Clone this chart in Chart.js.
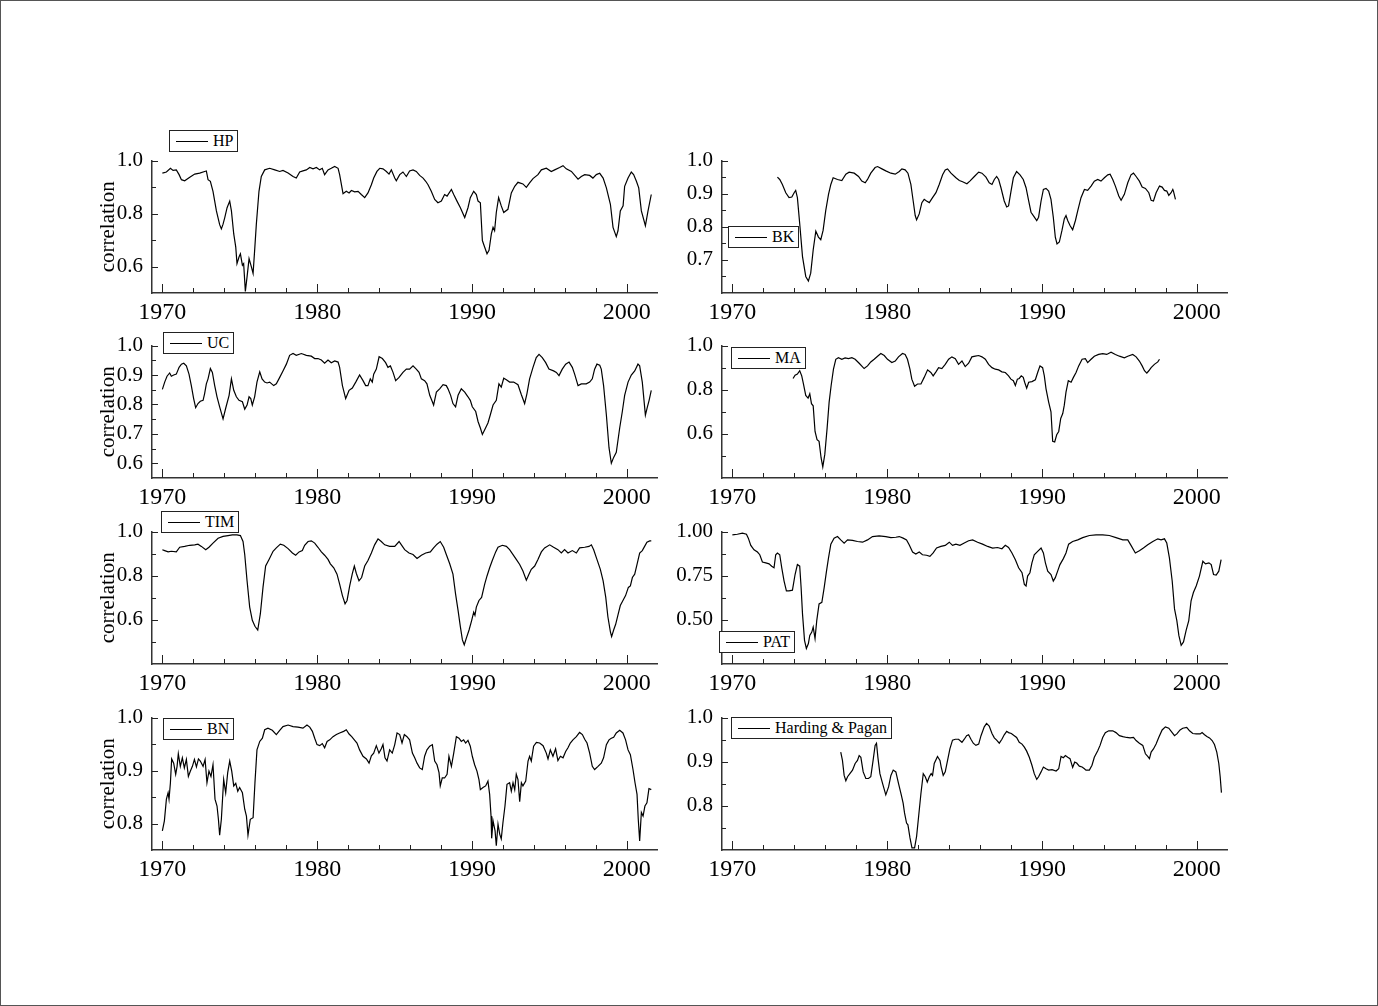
<!DOCTYPE html>
<html>
<head>
<meta charset="utf-8">
<script src="https://cdn.jsdelivr.net/npm/chart.js@4.4.0/dist/chart.umd.min.js"></script>
<style>
  body { margin: 0; background: #fff; }
  #frame { position: absolute; left: 0; top: 0; width: 1378px; height: 1006px; border: 1px solid #555; box-sizing: border-box; }
  canvas { position: absolute; }
  .legend { position: absolute; height: 22px; box-sizing: border-box; border: 1px solid #222; background: #fff;
            display: flex; align-items: center; padding: 0 4px 0 6px; white-space: nowrap;
            font: 16px 'Liberation Serif', 'Times New Roman', serif; color: #000; }
  .legend .swatch { display: inline-block; width: 32px; border-top: 1px solid #000; margin-right: 5px; }
</style>
</head>
<body>
<div id="frame"></div>
<script>
// axis settings shared by all panels
const X_MIN = 1969.33;
const X_MAX = 2001.95;
const xLabelTicks = [1970, 1980, 1990, 2000];
const xMinorTicks = [1972, 1974, 1976, 1978, 1982, 1984, 1986, 1988, 1992, 1994, 1996, 1998];

// HP
const hpYears = [1970.00,1970.26,1970.52,1970.69,1970.90,1971.08,1971.23,1971.44,1971.77,1972.09,1972.41,1972.73,1972.84,1972.95,1973.10,1973.27,1973.49,1973.70,1973.81,1973.92,1974.03,1974.18,1974.35,1974.46,1974.61,1974.74,1974.82,1974.95,1975.04,1975.17,1975.25,1975.36,1975.47,1975.60,1975.75,1975.86,1975.96,1976.07,1976.24,1976.39,1976.61,1976.93,1977.26,1977.58,1977.79,1978.12,1978.44,1978.65,1978.87,1979.08,1979.30,1979.52,1979.73,1979.95,1980.16,1980.33,1980.48,1980.70,1980.91,1981.13,1981.35,1981.45,1981.67,1981.88,1982.06,1982.21,1982.42,1982.64,1982.85,1983.07,1983.28,1983.50,1983.65,1983.86,1984.04,1984.25,1984.47,1984.64,1984.79,1985.01,1985.11,1985.33,1985.54,1985.76,1985.97,1986.19,1986.40,1986.62,1986.84,1987.01,1987.16,1987.37,1987.59,1987.80,1988.02,1988.23,1988.39,1988.67,1988.82,1989.03,1989.25,1989.53,1989.74,1989.89,1990.11,1990.28,1990.39,1990.54,1990.67,1990.82,1990.97,1991.10,1991.25,1991.36,1991.46,1991.57,1991.72,1991.89,1992.05,1992.32,1992.54,1992.76,1992.97,1993.29,1993.51,1993.72,1993.94,1994.26,1994.48,1994.80,1995.12,1995.34,1995.66,1995.88,1996.09,1996.42,1996.85,1997.06,1997.28,1997.60,1997.81,1998.03,1998.25,1998.47,1998.68,1998.94,1999.11,1999.32,1999.43,1999.58,1999.76,1999.86,2000.08,2000.29,2000.44,2000.62,2000.77,2000.94,2001.20,2001.37,2001.58];
const hpValues = [0.953,0.957,0.971,0.963,0.965,0.947,0.928,0.924,0.937,0.949,0.953,0.959,0.961,0.928,0.922,0.884,0.810,0.758,0.742,0.760,0.785,0.822,0.847,0.810,0.723,0.673,0.611,0.636,0.648,0.605,0.611,0.506,0.561,0.630,0.599,0.574,0.661,0.760,0.884,0.940,0.965,0.971,0.965,0.959,0.963,0.953,0.940,0.934,0.957,0.961,0.965,0.974,0.969,0.974,0.965,0.971,0.947,0.965,0.971,0.978,0.971,0.947,0.875,0.884,0.878,0.887,0.882,0.884,0.872,0.860,0.878,0.909,0.934,0.959,0.971,0.969,0.959,0.949,0.965,0.934,0.924,0.947,0.957,0.940,0.961,0.965,0.959,0.944,0.934,0.922,0.909,0.884,0.853,0.841,0.847,0.872,0.866,0.891,0.872,0.847,0.822,0.785,0.822,0.860,0.884,0.872,0.847,0.841,0.698,0.673,0.648,0.661,0.723,0.748,0.735,0.804,0.860,0.829,0.804,0.816,0.878,0.903,0.918,0.912,0.899,0.916,0.932,0.947,0.965,0.971,0.959,0.965,0.974,0.981,0.969,0.959,0.930,0.940,0.947,0.944,0.934,0.947,0.952,0.934,0.897,0.835,0.748,0.713,0.735,0.810,0.829,0.903,0.934,0.957,0.947,0.922,0.897,0.810,0.754,0.810,0.872];

// BK
const bkYears = [1972.91,1973.06,1973.23,1973.45,1973.66,1973.84,1973.99,1974.09,1974.20,1974.35,1974.53,1974.74,1974.91,1975.06,1975.22,1975.39,1975.56,1975.71,1975.86,1976.03,1976.21,1976.36,1976.51,1976.79,1977.07,1977.33,1977.54,1977.87,1978.15,1978.36,1978.58,1978.73,1978.94,1979.22,1979.38,1979.66,1979.91,1980.24,1980.52,1980.78,1980.95,1981.16,1981.34,1981.53,1981.68,1981.81,1981.90,1982.07,1982.24,1982.39,1982.54,1982.72,1982.93,1983.15,1983.36,1983.58,1983.75,1983.90,1984.12,1984.44,1984.66,1984.87,1985.15,1985.34,1985.63,1985.91,1986.12,1986.38,1986.59,1986.77,1986.92,1987.07,1987.20,1987.35,1987.56,1987.72,1987.84,1988.00,1988.15,1988.36,1988.58,1988.79,1988.97,1989.14,1989.29,1989.44,1989.66,1989.78,1989.94,1990.09,1990.26,1990.43,1990.58,1990.73,1990.86,1990.97,1991.12,1991.29,1991.44,1991.55,1991.66,1991.81,1991.98,1992.16,1992.31,1992.52,1992.74,1992.95,1993.17,1993.38,1993.60,1993.81,1994.03,1994.25,1994.40,1994.57,1994.74,1994.96,1995.11,1995.32,1995.54,1995.75,1995.91,1996.08,1996.29,1996.47,1996.68,1996.90,1997.05,1997.20,1997.37,1997.59,1997.76,1997.91,1998.06,1998.19,1998.34,1998.45,1998.49,1998.62];
const bkValues = [0.950,0.943,0.928,0.903,0.888,0.890,0.903,0.910,0.888,0.809,0.710,0.650,0.636,0.660,0.730,0.787,0.769,0.761,0.789,0.849,0.898,0.928,0.948,0.943,0.940,0.959,0.965,0.962,0.952,0.938,0.933,0.943,0.962,0.979,0.982,0.975,0.969,0.962,0.959,0.967,0.975,0.972,0.962,0.928,0.878,0.834,0.821,0.839,0.873,0.883,0.878,0.873,0.888,0.903,0.928,0.957,0.972,0.975,0.962,0.948,0.940,0.936,0.930,0.938,0.952,0.965,0.962,0.950,0.933,0.928,0.943,0.952,0.943,0.918,0.878,0.860,0.863,0.908,0.948,0.967,0.957,0.943,0.918,0.878,0.844,0.834,0.819,0.829,0.878,0.913,0.916,0.908,0.883,0.829,0.769,0.748,0.754,0.789,0.824,0.834,0.819,0.804,0.791,0.819,0.849,0.888,0.913,0.910,0.923,0.938,0.943,0.938,0.948,0.957,0.959,0.943,0.923,0.893,0.880,0.898,0.933,0.957,0.962,0.952,0.938,0.920,0.916,0.903,0.880,0.878,0.903,0.923,0.920,0.910,0.908,0.895,0.903,0.913,0.908,0.883];

// UC
const ucYears = [1970.00,1970.15,1970.30,1970.47,1970.58,1970.73,1970.90,1971.08,1971.23,1971.38,1971.55,1971.72,1971.87,1972.02,1972.15,1972.30,1972.45,1972.63,1972.73,1972.84,1972.95,1973.10,1973.23,1973.38,1973.53,1973.70,1973.92,1974.09,1974.31,1974.46,1974.61,1974.78,1974.95,1975.17,1975.32,1975.47,1975.60,1975.71,1975.81,1975.96,1976.11,1976.29,1976.44,1976.61,1976.76,1976.93,1977.19,1977.36,1977.58,1977.79,1978.01,1978.22,1978.44,1978.65,1978.98,1979.30,1979.62,1979.84,1980.05,1980.27,1980.48,1980.70,1980.91,1981.13,1981.35,1981.45,1981.63,1981.84,1982.06,1982.27,1982.49,1982.74,1982.96,1983.13,1983.28,1983.43,1983.56,1983.65,1983.82,1984.00,1984.21,1984.42,1984.57,1984.73,1984.90,1985.07,1985.29,1985.54,1985.76,1985.97,1986.19,1986.40,1986.58,1986.73,1986.94,1987.09,1987.27,1987.44,1987.52,1987.70,1987.91,1988.13,1988.34,1988.45,1988.62,1988.77,1988.94,1989.10,1989.31,1989.53,1989.74,1989.89,1990.02,1990.24,1990.39,1990.54,1990.67,1990.82,1991.03,1991.18,1991.36,1991.57,1991.74,1991.89,1992.05,1992.22,1992.43,1992.69,1992.97,1993.19,1993.40,1993.55,1993.72,1993.94,1994.15,1994.33,1994.54,1994.76,1994.97,1995.27,1995.45,1995.62,1995.83,1996.05,1996.27,1996.48,1996.63,1996.85,1997.06,1997.38,1997.60,1997.77,1997.92,1998.07,1998.25,1998.35,1998.50,1998.68,1998.85,1999.00,1999.15,1999.32,1999.54,1999.71,1999.86,2000.08,2000.29,2000.51,2000.72,2000.83,2001.00,2001.20,2001.33,2001.44,2001.58];
const ucValues = [0.851,0.876,0.896,0.907,0.896,0.900,0.903,0.926,0.937,0.940,0.931,0.903,0.864,0.820,0.789,0.803,0.811,0.814,0.837,0.870,0.887,0.922,0.909,0.864,0.826,0.792,0.751,0.787,0.831,0.887,0.848,0.826,0.814,0.809,0.784,0.798,0.826,0.820,0.798,0.826,0.876,0.911,0.887,0.876,0.873,0.876,0.864,0.870,0.892,0.914,0.937,0.967,0.973,0.967,0.973,0.967,0.964,0.956,0.956,0.951,0.940,0.951,0.942,0.948,0.944,0.926,0.864,0.820,0.848,0.856,0.876,0.900,0.881,0.864,0.864,0.887,0.876,0.903,0.920,0.962,0.956,0.942,0.926,0.931,0.909,0.881,0.892,0.909,0.920,0.920,0.931,0.920,0.909,0.887,0.881,0.870,0.831,0.809,0.798,0.842,0.853,0.867,0.864,0.853,0.831,0.803,0.792,0.831,0.853,0.842,0.826,0.814,0.792,0.776,0.742,0.720,0.698,0.714,0.737,0.764,0.798,0.814,0.870,0.859,0.889,0.884,0.876,0.876,0.867,0.833,0.803,0.837,0.887,0.926,0.959,0.970,0.959,0.942,0.920,0.914,0.909,0.898,0.920,0.937,0.944,0.926,0.903,0.864,0.870,0.870,0.876,0.887,0.920,0.937,0.933,0.920,0.864,0.764,0.653,0.600,0.620,0.637,0.720,0.776,0.831,0.876,0.900,0.914,0.937,0.931,0.876,0.764,0.792,0.814,0.848];

// MA
const maYears = [1973.92,1974.05,1974.20,1974.35,1974.48,1974.59,1974.74,1974.89,1975.00,1975.11,1975.22,1975.34,1975.47,1975.60,1975.73,1975.84,1975.97,1976.12,1976.25,1976.38,1976.53,1976.68,1976.85,1977.07,1977.28,1977.50,1977.72,1977.93,1978.19,1978.51,1978.73,1978.94,1979.16,1979.38,1979.59,1979.81,1980.02,1980.30,1980.52,1980.73,1980.99,1981.16,1981.31,1981.47,1981.59,1981.77,1981.96,1982.18,1982.39,1982.61,1982.82,1982.97,1983.15,1983.32,1983.53,1983.75,1983.97,1984.18,1984.40,1984.61,1984.83,1985.04,1985.26,1985.47,1985.69,1985.91,1986.12,1986.34,1986.55,1986.77,1986.98,1987.20,1987.41,1987.63,1987.84,1987.99,1988.15,1988.28,1988.41,1988.53,1988.66,1988.79,1988.88,1989.01,1989.14,1989.35,1989.57,1989.72,1989.87,1990.04,1990.15,1990.26,1990.43,1990.58,1990.69,1990.82,1990.95,1991.08,1991.21,1991.34,1991.44,1991.55,1991.70,1991.88,1992.03,1992.20,1992.37,1992.59,1992.80,1992.95,1993.17,1993.38,1993.66,1993.92,1994.18,1994.46,1994.74,1995.00,1995.32,1995.54,1995.86,1996.08,1996.29,1996.47,1996.62,1996.77,1996.90,1997.05,1997.26,1997.48,1997.59];
const maValues = [0.851,0.866,0.871,0.886,0.863,0.826,0.774,0.762,0.782,0.737,0.727,0.611,0.574,0.566,0.492,0.450,0.507,0.626,0.744,0.819,0.893,0.938,0.945,0.938,0.944,0.941,0.945,0.938,0.920,0.896,0.908,0.926,0.938,0.952,0.964,0.955,0.938,0.923,0.930,0.949,0.964,0.960,0.938,0.893,0.848,0.816,0.826,0.826,0.856,0.890,0.878,0.863,0.881,0.900,0.896,0.915,0.938,0.949,0.941,0.915,0.930,0.905,0.920,0.949,0.952,0.955,0.949,0.938,0.915,0.900,0.893,0.890,0.881,0.878,0.863,0.848,0.841,0.819,0.848,0.851,0.863,0.856,0.834,0.807,0.834,0.837,0.845,0.878,0.908,0.900,0.863,0.804,0.744,0.700,0.566,0.563,0.596,0.611,0.670,0.692,0.730,0.789,0.841,0.834,0.856,0.878,0.908,0.938,0.941,0.923,0.938,0.952,0.960,0.964,0.960,0.970,0.960,0.952,0.945,0.952,0.960,0.949,0.930,0.908,0.886,0.875,0.886,0.900,0.915,0.926,0.938];

// TIM
const timYears = [1970.00,1970.15,1970.37,1970.58,1970.90,1971.12,1971.44,1971.77,1972.09,1972.30,1972.52,1972.80,1973.01,1973.27,1973.60,1973.92,1974.24,1974.52,1974.82,1975.04,1975.21,1975.32,1975.47,1975.64,1975.81,1975.98,1976.16,1976.33,1976.50,1976.67,1976.89,1977.15,1977.36,1977.62,1977.84,1978.12,1978.40,1978.61,1978.83,1979.04,1979.19,1979.41,1979.62,1979.84,1980.05,1980.27,1980.48,1980.70,1980.85,1981.07,1981.28,1981.45,1981.63,1981.80,1981.93,1982.10,1982.27,1982.40,1982.53,1982.70,1982.87,1983.07,1983.28,1983.50,1983.71,1983.93,1984.14,1984.36,1984.68,1985.01,1985.29,1985.44,1985.65,1985.93,1986.19,1986.45,1986.73,1987.01,1987.31,1987.52,1987.74,1987.95,1988.17,1988.34,1988.56,1988.77,1988.94,1989.10,1989.25,1989.38,1989.50,1989.63,1989.81,1989.98,1990.11,1990.19,1990.28,1990.45,1990.62,1990.82,1990.97,1991.14,1991.31,1991.53,1991.68,1991.96,1992.22,1992.43,1992.65,1992.86,1993.08,1993.29,1993.51,1993.68,1993.83,1994.05,1994.26,1994.48,1994.69,1995.02,1995.27,1995.55,1995.77,1995.98,1996.20,1996.48,1996.74,1996.95,1997.28,1997.56,1997.71,1997.86,1998.07,1998.29,1998.47,1998.64,1998.78,1998.94,1999.02,1999.15,1999.28,1999.45,1999.58,1999.75,1999.92,2000.10,2000.23,2000.36,2000.51,2000.66,2000.83,2001.00,2001.15,2001.30,2001.48,2001.58];
const timValues = [0.918,0.914,0.908,0.911,0.908,0.929,0.933,0.938,0.940,0.943,0.933,0.918,0.929,0.948,0.970,0.978,0.982,0.985,0.985,0.982,0.955,0.896,0.777,0.658,0.598,0.571,0.554,0.628,0.747,0.844,0.874,0.911,0.926,0.943,0.938,0.923,0.903,0.893,0.908,0.914,0.938,0.955,0.958,0.948,0.929,0.908,0.893,0.874,0.854,0.836,0.807,0.762,0.710,0.673,0.688,0.754,0.810,0.844,0.810,0.777,0.792,0.844,0.869,0.903,0.940,0.967,0.955,0.940,0.933,0.933,0.955,0.940,0.918,0.903,0.896,0.878,0.893,0.903,0.908,0.926,0.943,0.955,0.929,0.896,0.854,0.807,0.717,0.643,0.568,0.509,0.487,0.516,0.554,0.598,0.635,0.621,0.658,0.688,0.702,0.762,0.799,0.836,0.869,0.908,0.929,0.938,0.933,0.918,0.896,0.874,0.851,0.821,0.780,0.807,0.829,0.844,0.874,0.908,0.926,0.940,0.929,0.918,0.903,0.918,0.903,0.914,0.903,0.926,0.929,0.933,0.940,0.918,0.874,0.829,0.777,0.702,0.613,0.546,0.524,0.554,0.580,0.628,0.665,0.688,0.710,0.747,0.754,0.792,0.807,0.851,0.903,0.914,0.933,0.952,0.958,0.958];

// PAT
const patYears = [1970.00,1970.32,1970.65,1970.91,1971.03,1971.19,1971.40,1971.62,1971.77,1971.94,1972.16,1972.37,1972.54,1972.69,1972.80,1972.91,1973.06,1973.19,1973.34,1973.49,1973.66,1973.88,1974.05,1974.20,1974.35,1974.44,1974.53,1974.66,1974.78,1974.91,1975.00,1975.13,1975.22,1975.34,1975.45,1975.60,1975.78,1975.93,1976.08,1976.21,1976.36,1976.57,1976.79,1977.00,1977.22,1977.44,1977.76,1978.08,1978.41,1978.73,1979.05,1979.48,1979.91,1980.24,1980.56,1980.78,1981.03,1981.25,1981.42,1981.64,1981.85,1982.07,1982.28,1982.54,1982.76,1982.97,1983.19,1983.47,1983.75,1984.01,1984.22,1984.44,1984.70,1984.98,1985.26,1985.52,1985.84,1986.16,1986.49,1986.81,1987.13,1987.41,1987.63,1987.84,1988.06,1988.28,1988.49,1988.71,1988.86,1988.97,1989.07,1989.22,1989.35,1989.50,1989.72,1989.94,1990.09,1990.22,1990.37,1990.58,1990.73,1990.86,1991.01,1991.16,1991.38,1991.55,1991.72,1991.98,1992.31,1992.63,1993.06,1993.49,1993.92,1994.35,1994.78,1995.22,1995.54,1995.75,1996.03,1996.29,1996.55,1996.83,1997.16,1997.48,1997.69,1997.91,1998.06,1998.23,1998.41,1998.56,1998.71,1998.84,1998.99,1999.14,1999.31,1999.48,1999.63,1999.78,1999.96,2000.17,2000.39,2000.56,2000.78,2000.93,2001.08,2001.25,2001.42,2001.57];
const patValues = [0.981,0.985,0.991,0.985,0.963,0.922,0.897,0.884,0.869,0.828,0.823,0.817,0.804,0.795,0.869,0.879,0.869,0.795,0.720,0.664,0.664,0.668,0.757,0.813,0.804,0.683,0.534,0.384,0.338,0.366,0.412,0.431,0.459,0.394,0.496,0.590,0.599,0.683,0.776,0.851,0.929,0.963,0.972,0.953,0.935,0.953,0.950,0.944,0.940,0.953,0.972,0.976,0.972,0.966,0.968,0.972,0.963,0.953,0.925,0.884,0.873,0.884,0.869,0.866,0.860,0.879,0.907,0.916,0.922,0.940,0.922,0.929,0.922,0.935,0.948,0.953,0.940,0.929,0.916,0.907,0.910,0.903,0.922,0.910,0.879,0.841,0.795,0.767,0.701,0.692,0.748,0.767,0.823,0.869,0.888,0.907,0.879,0.823,0.776,0.757,0.720,0.739,0.776,0.813,0.847,0.879,0.929,0.944,0.953,0.966,0.978,0.981,0.981,0.978,0.966,0.953,0.953,0.922,0.879,0.892,0.907,0.925,0.944,0.959,0.953,0.959,0.935,0.851,0.720,0.562,0.496,0.412,0.356,0.375,0.440,0.496,0.608,0.655,0.692,0.748,0.832,0.817,0.823,0.813,0.757,0.754,0.776,0.841];

// BN
const bnYears = [1970.00,1970.13,1970.26,1970.37,1970.43,1970.52,1970.60,1970.73,1970.86,1970.95,1971.03,1971.16,1971.29,1971.42,1971.55,1971.68,1971.81,1971.94,1972.07,1972.20,1972.33,1972.45,1972.63,1972.76,1972.88,1973.01,1973.14,1973.27,1973.40,1973.53,1973.62,1973.70,1973.81,1973.96,1974.09,1974.22,1974.35,1974.48,1974.61,1974.74,1974.87,1974.99,1975.17,1975.32,1975.43,1975.53,1975.68,1975.86,1975.98,1976.11,1976.29,1976.46,1976.61,1976.82,1977.10,1977.36,1977.58,1977.79,1978.12,1978.44,1978.76,1979.08,1979.34,1979.52,1979.69,1979.84,1979.99,1980.16,1980.33,1980.48,1980.64,1980.81,1981.02,1981.24,1981.45,1981.71,1981.88,1982.06,1982.23,1982.40,1982.57,1982.74,1982.96,1983.18,1983.35,1983.50,1983.65,1983.82,1983.99,1984.14,1984.25,1984.38,1984.51,1984.68,1984.85,1985.01,1985.16,1985.33,1985.48,1985.63,1985.80,1985.97,1986.15,1986.30,1986.45,1986.62,1986.79,1986.94,1987.09,1987.27,1987.44,1987.59,1987.74,1987.87,1987.95,1988.08,1988.23,1988.39,1988.51,1988.67,1988.82,1988.99,1989.16,1989.31,1989.46,1989.59,1989.74,1989.89,1990.02,1990.17,1990.32,1990.45,1990.54,1990.71,1990.88,1991.03,1991.14,1991.23,1991.27,1991.36,1991.49,1991.57,1991.68,1991.79,1991.89,1992.00,1992.13,1992.26,1992.43,1992.54,1992.65,1992.76,1992.86,1992.97,1993.08,1993.19,1993.29,1993.47,1993.62,1993.72,1993.83,1993.98,1994.16,1994.37,1994.59,1994.80,1994.91,1995.06,1995.23,1995.40,1995.55,1995.71,1995.88,1996.05,1996.20,1996.35,1996.52,1996.74,1996.95,1997.13,1997.28,1997.43,1997.60,1997.77,1997.92,1998.14,1998.35,1998.50,1998.68,1998.85,1999.00,1999.15,1999.32,1999.54,1999.75,1999.92,2000.08,2000.23,2000.40,2000.53,2000.66,2000.74,2000.83,2000.94,2001.05,2001.17,2001.30,2001.43,2001.58];
const bnValues = [0.786,0.805,0.846,0.858,0.846,0.877,0.922,0.914,0.893,0.908,0.932,0.908,0.924,0.905,0.921,0.889,0.899,0.908,0.921,0.907,0.922,0.918,0.908,0.921,0.877,0.899,0.889,0.911,0.846,0.833,0.808,0.778,0.808,0.883,0.858,0.896,0.918,0.899,0.871,0.876,0.861,0.868,0.858,0.827,0.814,0.778,0.808,0.811,0.877,0.939,0.955,0.961,0.977,0.980,0.976,0.968,0.976,0.983,0.986,0.983,0.982,0.980,0.986,0.982,0.974,0.961,0.949,0.947,0.951,0.943,0.955,0.958,0.964,0.968,0.971,0.974,0.977,0.969,0.964,0.958,0.952,0.939,0.927,0.922,0.914,0.928,0.933,0.947,0.933,0.941,0.949,0.924,0.918,0.939,0.933,0.949,0.971,0.968,0.952,0.968,0.964,0.958,0.933,0.924,0.914,0.905,0.902,0.927,0.939,0.946,0.949,0.918,0.911,0.896,0.871,0.886,0.886,0.893,0.927,0.908,0.933,0.964,0.961,0.955,0.958,0.952,0.957,0.946,0.927,0.911,0.899,0.883,0.864,0.868,0.871,0.880,0.855,0.814,0.772,0.805,0.786,0.758,0.799,0.780,0.771,0.802,0.833,0.874,0.877,0.861,0.877,0.864,0.893,0.883,0.841,0.877,0.871,0.880,0.918,0.927,0.918,0.946,0.953,0.952,0.947,0.933,0.922,0.939,0.927,0.941,0.919,0.927,0.924,0.936,0.943,0.952,0.958,0.964,0.972,0.968,0.959,0.952,0.933,0.908,0.902,0.908,0.914,0.924,0.949,0.958,0.961,0.963,0.971,0.976,0.971,0.958,0.939,0.930,0.902,0.877,0.855,0.808,0.767,0.821,0.814,0.833,0.839,0.866,0.864];

// Harding & Pagan
const hpagYears = [1977.00,1977.11,1977.22,1977.33,1977.44,1977.59,1977.76,1977.93,1978.08,1978.19,1978.30,1978.45,1978.62,1978.79,1978.94,1979.09,1979.22,1979.31,1979.40,1979.53,1979.70,1979.91,1980.09,1980.24,1980.39,1980.56,1980.73,1980.91,1981.03,1981.12,1981.25,1981.34,1981.47,1981.60,1981.77,1981.90,1982.03,1982.18,1982.33,1982.46,1982.59,1982.72,1982.84,1982.93,1983.04,1983.25,1983.41,1983.49,1983.62,1983.75,1983.90,1984.05,1984.22,1984.40,1984.61,1984.83,1984.98,1985.13,1985.26,1985.41,1985.56,1985.73,1985.91,1986.06,1986.27,1986.42,1986.59,1986.77,1986.92,1987.07,1987.24,1987.41,1987.56,1987.72,1987.84,1988.02,1988.21,1988.36,1988.53,1988.71,1988.86,1989.01,1989.18,1989.35,1989.50,1989.66,1989.78,1989.94,1990.09,1990.26,1990.43,1990.65,1990.91,1991.08,1991.23,1991.38,1991.51,1991.66,1991.81,1991.98,1992.11,1992.24,1992.41,1992.59,1992.74,1992.84,1993.06,1993.23,1993.38,1993.60,1993.75,1993.92,1994.09,1994.31,1994.57,1994.78,1995.00,1995.22,1995.47,1995.69,1995.91,1996.08,1996.29,1996.51,1996.68,1996.83,1996.94,1997.05,1997.20,1997.37,1997.54,1997.76,1997.97,1998.19,1998.41,1998.56,1998.71,1998.92,1999.09,1999.35,1999.53,1999.74,1999.96,2000.22,2000.34,2000.50,2000.65,2000.82,2000.99,2001.14,2001.29,2001.42,2001.51,2001.59];
const hpagValues = [0.922,0.903,0.869,0.857,0.866,0.873,0.881,0.896,0.903,0.914,0.910,0.877,0.862,0.862,0.866,0.903,0.937,0.942,0.910,0.873,0.851,0.825,0.843,0.869,0.881,0.877,0.851,0.825,0.806,0.784,0.761,0.757,0.728,0.705,0.705,0.731,0.776,0.828,0.873,0.866,0.854,0.866,0.873,0.869,0.896,0.912,0.903,0.888,0.869,0.877,0.903,0.929,0.949,0.951,0.951,0.944,0.951,0.959,0.961,0.951,0.942,0.937,0.940,0.959,0.979,0.987,0.981,0.964,0.954,0.949,0.942,0.951,0.961,0.969,0.966,0.964,0.959,0.955,0.944,0.940,0.933,0.924,0.910,0.892,0.873,0.860,0.866,0.877,0.888,0.884,0.881,0.882,0.879,0.884,0.912,0.909,0.914,0.910,0.907,0.887,0.899,0.897,0.890,0.888,0.884,0.881,0.881,0.892,0.910,0.925,0.937,0.955,0.966,0.970,0.970,0.966,0.959,0.957,0.955,0.954,0.955,0.948,0.942,0.937,0.918,0.912,0.907,0.922,0.929,0.940,0.955,0.972,0.979,0.976,0.966,0.959,0.963,0.972,0.976,0.978,0.970,0.964,0.963,0.963,0.966,0.961,0.957,0.954,0.948,0.939,0.922,0.896,0.866,0.830];

// panel layout
const colLeft = [152, 722];
const rowTop = [159, 344, 530, 716];
const PLOT_W = 505, PLOT_H = 134;
const Y_AXIS_W = 56, PAD_TOP = 20, PAD_RIGHT = 12, X_AXIS_H = 40;
const FONT = "'Liberation Serif', 'Times New Roman', serif";

const panels = [
  { label: 'HP', years: hpYears, values: hpValues, yMin: 0.5, yTicks: [0.6, 0.8, 1.0], yMinor: [0.7, 0.9], digits: 1, col: 0, row: 0, legendAt: [169, 130] },
  { label: 'BK', years: bkYears, values: bkValues, yMin: 0.6, yTicks: [0.7, 0.8, 0.9, 1.0], yMinor: [0.65, 0.75, 0.85, 0.95], digits: 1, col: 1, row: 0, legendAt: [728, 226] },
  { label: 'UC', years: ucYears, values: ucValues, yMin: 0.55, yTicks: [0.6, 0.7, 0.8, 0.9, 1.0], yMinor: [0.65, 0.75, 0.85, 0.95], digits: 1, col: 0, row: 1, legendAt: [163, 332] },
  { label: 'MA', years: maYears, values: maValues, yMin: 0.4, yTicks: [0.6, 0.8, 1.0], yMinor: [0.5, 0.7, 0.9], digits: 1, col: 1, row: 1, legendAt: [731, 347] },
  { label: 'TIM', years: timYears, values: timValues, yMin: 0.4, yTicks: [0.6, 0.8, 1.0], yMinor: [0.5, 0.7, 0.9], digits: 1, col: 0, row: 2, legendAt: [161, 511] },
  { label: 'PAT', years: patYears, values: patValues, yMin: 0.25, yTicks: [0.5, 0.75, 1.0], yMinor: [0.375, 0.625, 0.875], digits: 2, col: 1, row: 2, legendAt: [719, 631] },
  { label: 'BN', years: bnYears, values: bnValues, yMin: 0.75, yTicks: [0.8, 0.9, 1.0], yMinor: [0.85, 0.95], digits: 1, col: 0, row: 3, legendAt: [163, 718] },
  { label: 'Harding & Pagan', years: hpagYears, values: hpagValues, yMin: 0.7, yTicks: [0.8, 0.9, 1.0], yMinor: [0.75, 0.85, 0.95], digits: 1, col: 1, row: 3, legendAt: [731, 717] }
];

// tick marks pointing into the plot, with shorter minor ticks
const inwardTicks = {
  id: 'inwardTicks',
  afterDraw(chart, args, opts) {
    const { ctx, chartArea: a, scales: { x, y } } = chart;
    const seg = (x1, y1, x2, y2) => { ctx.moveTo(x1, y1); ctx.lineTo(x2, y2); };
    ctx.save();
    ctx.strokeStyle = '#222';
    ctx.lineWidth = 1;
    ctx.beginPath();
    xLabelTicks.forEach(v => { const p = Math.round(x.getPixelForValue(v)) + 0.5; seg(p, a.bottom, p, a.bottom - 9); });
    xMinorTicks.forEach(v => { const p = Math.round(x.getPixelForValue(v)) + 0.5; seg(p, a.bottom, p, a.bottom - 5); });
    opts.major.forEach(v => { const p = Math.round(y.getPixelForValue(v)) + 0.5; seg(a.left, p, a.left + 6, p); });
    opts.minor.forEach(v => { const p = Math.round(y.getPixelForValue(v)) + 0.5; seg(a.left, p, a.left + 4, p); });
    ctx.stroke();
    ctx.restore();
  }
};

function makePanel(p) {
  const left = colLeft[p.col], top = rowTop[p.row];
  const canvas = document.createElement('canvas');
  canvas.width = Y_AXIS_W + PLOT_W + PAD_RIGHT;
  canvas.height = PAD_TOP + PLOT_H + X_AXIS_H;
  canvas.style.left = (left - Y_AXIS_W) + 'px';
  canvas.style.top = (top - PAD_TOP) + 'px';
  document.body.appendChild(canvas);

  new Chart(canvas, {
    type: 'line',
    data: {
      datasets: [{
        label: p.label,
        data: p.years.map((yr, i) => ({ x: yr, y: p.values[i] })),
        borderColor: '#000',
        borderWidth: 1.2,
        pointRadius: 0,
        tension: 0,
        fill: false
      }]
    },
    options: {
      responsive: false,
      devicePixelRatio: 1,
      animation: false,
      layout: { padding: { top: PAD_TOP, right: PAD_RIGHT, left: 0, bottom: 0 } },
      plugins: {
        legend: { display: false },
        tooltip: { enabled: false },
        inwardTicks: { major: p.yTicks, minor: p.yMinor }
      },
      scales: {
        x: {
          type: 'linear',
          min: X_MIN,
          max: X_MAX,
          grid: { display: false, drawTicks: false },
          border: { display: true, color: '#333', width: 1.5 },
          ticks: { font: { family: FONT, size: 24 }, color: '#000', padding: 5, autoSkip: false, maxRotation: 0, callback: v => String(v) },
          afterBuildTicks: s => { s.ticks = xLabelTicks.map(v => ({ value: v })); },
          afterFit: s => { s.height = X_AXIS_H; }
        },
        y: {
          type: 'linear',
          min: p.yMin,
          max: 1,
          grid: { display: false, drawTicks: false },
          border: { display: true, color: '#333', width: 1.5 },
          title: { display: p.col === 0, text: 'correlation', font: { family: FONT, size: 21 }, color: '#000', padding: 0 },
          ticks: { font: { family: FONT, size: 21 }, color: '#000', padding: 9, callback: v => Number(v).toFixed(p.digits) },
          afterBuildTicks: s => { s.ticks = p.yTicks.map(v => ({ value: v })); },
          afterFit: s => { s.width = Y_AXIS_W; }
        }
      }
    },
    plugins: [inwardTicks]
  });

  const box = document.createElement('div');
  box.className = 'legend';
  box.style.left = p.legendAt[0] + 'px';
  box.style.top = p.legendAt[1] + 'px';
  const swatch = document.createElement('span');
  swatch.className = 'swatch';
  const text = document.createElement('span');
  text.textContent = p.label;
  box.appendChild(swatch);
  box.appendChild(text);
  document.body.appendChild(box);
}

panels.forEach(makePanel);
</script>
</body>
</html>
